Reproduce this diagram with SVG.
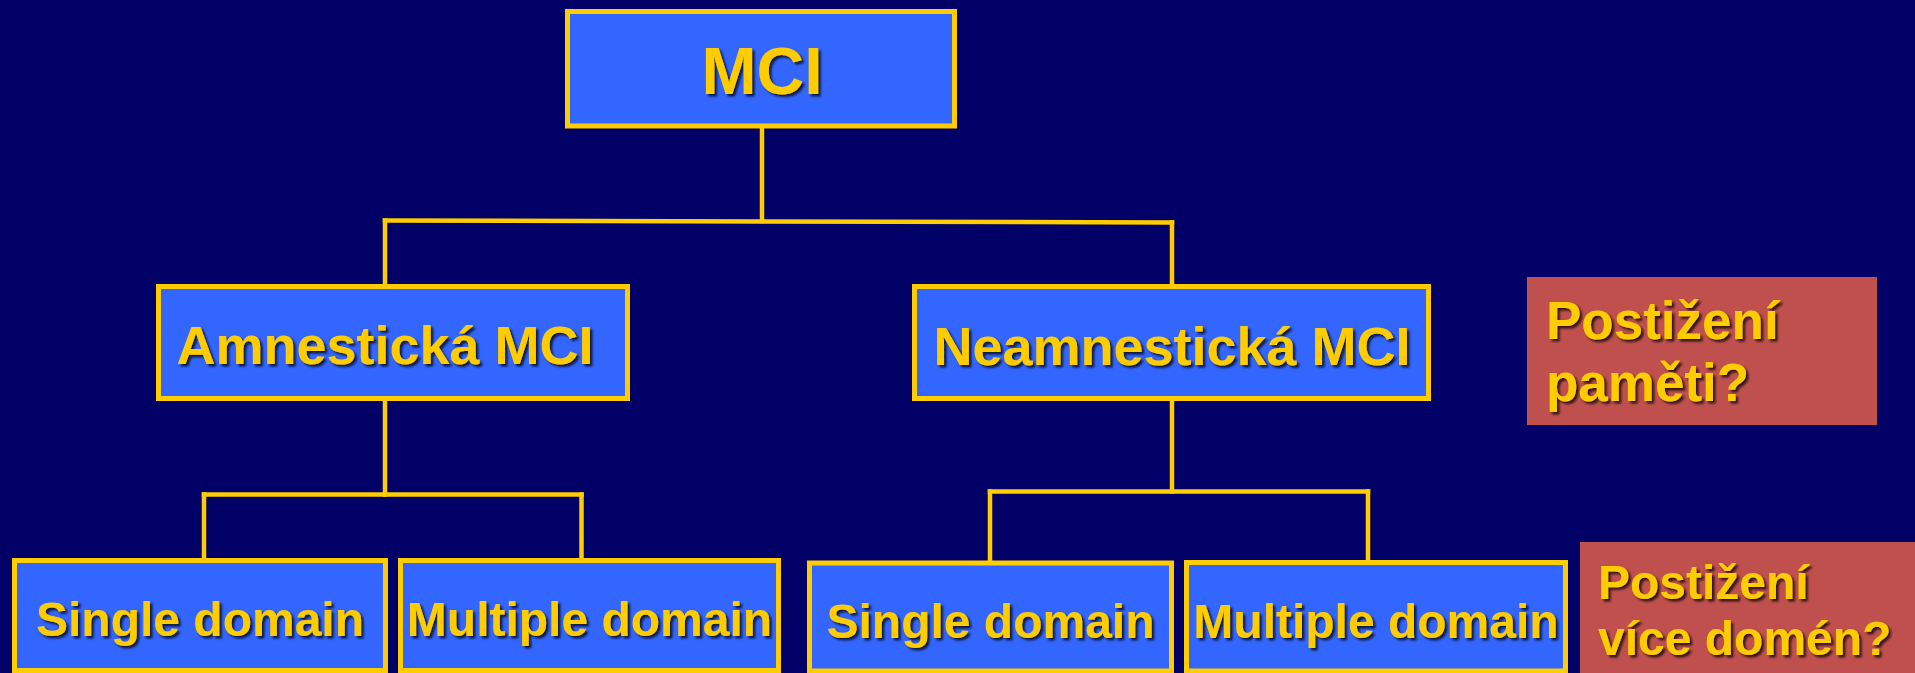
<svg xmlns="http://www.w3.org/2000/svg" width="1915" height="673" viewBox="0 0 1915 673">
  <defs>
    <filter id="sh" x="-5%" y="-20%" width="110%" height="140%">
      <feDropShadow dx="2.5" dy="2.5" stdDeviation="0.8" flood-color="#000000" flood-opacity="0.75"/>
    </filter>
  </defs>
  <style>
    .box { fill: #3366FF; stroke: #FFCC00; stroke-width: 5; }
    .q { fill: #C0504D; }
    .conn { stroke: #FFCC00; stroke-width: 4.5; fill: none; stroke-linecap: square; }
    .t { font-family: "Liberation Sans", Arial, sans-serif; font-weight: bold; fill: #FFCC00; filter: url(#sh); }
    .m { text-anchor: middle; }
  </style>
  <rect x="0" y="0" width="1915" height="673" fill="#000066"/>

  <g id="connectors">
    <line class="conn" x1="762" y1="128" x2="762" y2="221"/>
    <line class="conn" x1="385" y1="220.5" x2="1172" y2="222.5"/>
    <line class="conn" x1="385" y1="220.5" x2="385" y2="284"/>
    <line class="conn" x1="1172" y1="222.5" x2="1172" y2="284"/>
    <line class="conn" x1="385" y1="401" x2="385" y2="494.5"/>
    <line class="conn" x1="204" y1="494.5" x2="581.5" y2="494.5"/>
    <line class="conn" x1="204" y1="494.5" x2="204" y2="558"/>
    <line class="conn" x1="581.5" y1="494.5" x2="581.5" y2="558"/>
    <line class="conn" x1="1172" y1="401" x2="1172" y2="491.5"/>
    <line class="conn" x1="990" y1="491.5" x2="1368" y2="491.5"/>
    <line class="conn" x1="990" y1="491.5" x2="990" y2="561"/>
    <line class="conn" x1="1368" y1="491.5" x2="1368" y2="560"/>
  </g>

  <g id="mci">
    <rect class="box" x="567.5" y="11.5" width="387" height="114.5"/>
    <text class="t m" x="762" y="94" font-size="66">MCI</text>
  </g>

  <g id="amnesticka">
    <rect class="box" x="158.5" y="286.5" width="469" height="112"/>
    <text class="t m" x="385" y="364" font-size="54">Amnestická MCI</text>
  </g>

  <g id="neamnesticka">
    <rect class="box" x="914.5" y="286.5" width="514" height="112"/>
    <text class="t m" x="1172" y="365" font-size="54">Neamnestická MCI</text>
  </g>

  <g id="q-pameti">
    <rect class="q" x="1527" y="277" width="350" height="148"/>
    <text class="t" x="1546" y="339" font-size="53">Postižení</text>
    <text class="t" x="1546" y="401" font-size="53">paměti?</text>
  </g>

  <g id="single-left">
    <rect class="box" x="14.5" y="560.5" width="371" height="110"/>
    <text class="t m" x="200" y="636" font-size="48">Single domain</text>
  </g>

  <g id="multiple-left">
    <rect class="box" x="400.5" y="560.5" width="378" height="110"/>
    <text class="t m" x="589.5" y="636" font-size="48">Multiple domain</text>
  </g>

  <g id="single-right">
    <rect class="box" x="809.5" y="563" width="362" height="108"/>
    <text class="t m" x="990.5" y="638" font-size="48">Single domain</text>
  </g>

  <g id="multiple-right">
    <rect class="box" x="1186.5" y="562.5" width="379" height="108.5"/>
    <text class="t m" x="1376" y="638" font-size="48">Multiple domain</text>
  </g>

  <g id="q-domen">
    <rect class="q" x="1580" y="542" width="335" height="131"/>
    <text class="t" x="1598" y="599" font-size="48">Postižení</text>
    <text class="t" x="1598" y="655" font-size="48">více domén?</text>
  </g>
</svg>
